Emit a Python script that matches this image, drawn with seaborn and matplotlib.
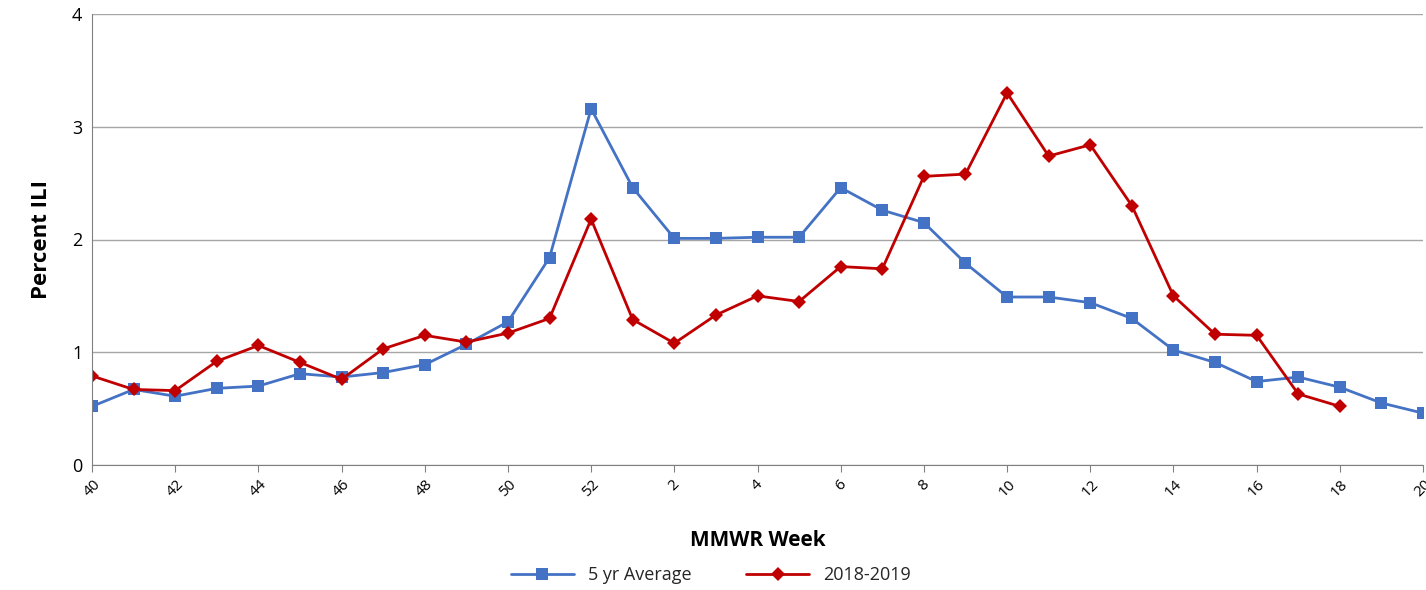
import numpy as np
import pandas as pd
import matplotlib
matplotlib.use("Agg")
import matplotlib.pyplot as plt
import seaborn as sns

weeks = [40, 41, 42, 43, 44, 45, 46, 47, 48, 49, 50, 51, 52,
         1, 2, 3, 4, 5, 6, 7, 8, 9, 10, 11, 12, 13, 14, 15, 16, 17, 18, 19, 20]
avg5 = [0.52, 0.67, 0.61, 0.68, 0.70, 0.81, 0.78, 0.82, 0.89, 1.07, 1.27, 1.84, 3.16,
        2.46, 2.01, 2.01, 2.02, 2.02, 2.46, 2.26, 2.15, 1.79, 1.49, 1.49, 1.44, 1.30,
        1.02, 0.91, 0.74, 0.78, 0.69, 0.55, 0.46]
season = [0.79, 0.67, 0.66, 0.92, 1.06, 0.91, 0.76, 1.03, 1.15, 1.09, 1.17, 1.30, 2.18,
          1.29, 1.08, 1.33, 1.50, 1.45, 1.76, 1.74, 2.56, 2.58, 3.30, 2.74, 2.84, 2.30,
          1.50, 1.16, 1.15, 0.63, 0.52]

sns.set_style("white")
plt.rcParams['font.family'] = ['Open Sans', 'DejaVu Sans']

df = pd.DataFrame({'pos': range(len(weeks)), 'avg': avg5})
df2 = pd.DataFrame({'pos': range(len(season)), 'val': season})

fig = plt.figure(figsize=(14.26, 5.9), dpi=100)
ax = fig.add_axes([92 / 1426, 125 / 590, (1423 - 92) / 1426, (465 - 14) / 590])
ax.set_axisbelow(True)
ax.yaxis.grid(True, color='#a6a6a6', lw=1)

sns.lineplot(data=df, x='pos', y='avg', ax=ax, color='#4472C4', lw=2,
             marker='s', markersize=8, markeredgewidth=0, label='5 yr Average')
sns.lineplot(data=df2, x='pos', y='val', ax=ax, color='#C00000', lw=2,
             marker='D', markersize=7, markeredgewidth=0, label='2018-2019')

ax.set_xlim(0, len(weeks) - 1)
ax.set_ylim(0, 4)
ax.set_yticks([0, 1, 2, 3, 4])
ticks = list(range(0, len(weeks), 2))
ax.set_xticks(ticks)
ax.set_xticklabels([str(weeks[i]) for i in ticks], rotation=45, fontsize=11)
ax.tick_params(axis='y', labelsize=13, labelcolor='black')
ax.tick_params(axis='x', length=5, color='#808080', direction='out', bottom=True,
               labelcolor='black')
for s in ['top', 'right']:
    ax.spines[s].set_visible(False)
for s in ['left', 'bottom']:
    ax.spines[s].set_color('#808080')
ax.set_xlabel('MMWR Week', fontsize=15, fontweight='bold', labelpad=22, color='black')
ax.set_ylabel('Percent ILI', fontsize=16, fontweight='bold', labelpad=14, color='black')
ax.legend(loc='center', bbox_to_anchor=(0.465, -0.244), ncol=2, frameon=False,
          fontsize=13, handlelength=3.5, columnspacing=3)

fig.savefig('out.png', dpi=100)
